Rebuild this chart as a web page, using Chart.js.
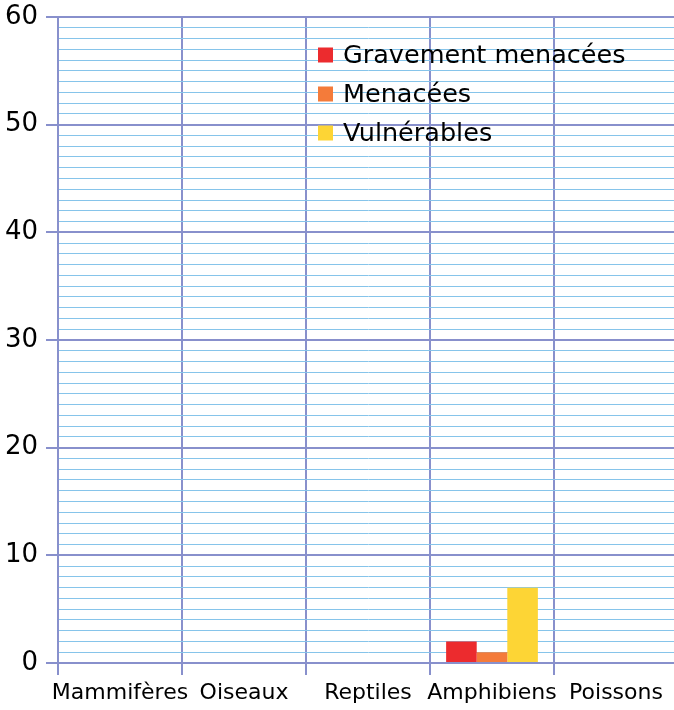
<!DOCTYPE html>
<html lang="fr">
<head>
<meta charset="utf-8">
<title>Espèces menacées</title>
<script src="https://cdn.jsdelivr.net/npm/chart.js@4/dist/chart.umd.min.js"></script>
<style>
  html, body { margin: 0; padding: 0; background: #fff; overflow: hidden; }
  #wrap { position: relative; width: 680px; height: 710px; }
</style>
</head>
<body>
<div id="wrap"><canvas id="chart"></canvas></div>
<script>
(function () {
    'use strict';

    // ---- data ----
    const categories   = ['Mammifères', 'Oiseaux', 'Reptiles', 'Amphibiens', 'Poissons'];
    const gravement    = [0, 0, 0, 2, 0];
    const menacees     = [0, 0, 0, 1, 0];
    const vulnerables  = [0, 0, 0, 7, 0];
    const seriesNames  = ['Gravement menacées', 'Menacées', 'Vulnérables'];
    const yMin = 0, yMax = 60, yMajor = 10;

    // ---- style ----
    const FONT   = "'DejaVu Sans', sans-serif";
    const MAJOR  = '#8890cc';
    const MINOR  = '#86c4ea';
    const COLORS = ['#ec2b2e', '#f47b3a', '#fdd535'];

    const isMajor = (v) => v % yMajor === 0;

    // legend drawn inside the plot area
    const innerLegend = {
        id: 'innerLegend',
        afterDatasetsDraw(chart) {
            const ctx = chart.ctx;
            const x0 = 318, y0 = 55, step = 39, box = 15;
            ctx.save();
            ctx.font = `25.5px ${FONT}`;
            ctx.textBaseline = 'middle';
            ctx.textAlign = 'left';
            chart.data.datasets.forEach((ds, i) => {
                const y = y0 + i * step;
                ctx.fillStyle = ds.backgroundColor;
                ctx.fillRect(x0, y - box / 2, box, box);
                ctx.fillStyle = '#000';
                ctx.fillText(ds.label, x0 + 25, y + 1);
            });
            ctx.restore();
        }
    };

    const datasets = [gravement, menacees, vulnerables].map((data, i) => ({
        label: seriesNames[i],
        data,
        backgroundColor: COLORS[i],
        borderWidth: 0,
        barPercentage: 1,
        categoryPercentage: 0.74
    }));

    new Chart(document.getElementById('chart'), {
        type: 'bar',
        data: { labels: categories, datasets },
        options: {
            responsive: true,
            maintainAspectRatio: false,
            animation: false,
            layout: { padding: { top: 17, right: 2, left: 0, bottom: 0 } },
            plugins: { legend: { display: false }, tooltip: { enabled: false } },
            scales: {
                x: {
                    type: 'category',
                    offset: true,
                    grid: {
                        offset: true,
                        color: MAJOR,
                        lineWidth: 2,
                        tickLength: 12,
                        tickColor: MAJOR
                    },
                    border: { color: MAJOR, width: 2 },
                    ticks: {
                        color: '#000',
                        font: { family: FONT, size: 22 },
                        padding: 5,
                        maxRotation: 0,
                        autoSkip: false
                    },
                    afterFit(scale) { scale.height = 47; }
                },
                y: {
                    min: yMin,
                    max: yMax,
                    grid: {
                        color: (c) => isMajor(c.tick.value) ? MAJOR : MINOR,
                        lineWidth: (c) => isMajor(c.tick.value) ? 2 : 1,
                        tickLength: 12,
                        tickColor: (c) => isMajor(c.tick.value) ? MAJOR : 'rgba(0,0,0,0)'
                    },
                    border: { color: MAJOR, width: 2 },
                    ticks: {
                        stepSize: 1,
                        autoSkip: false,
                        color: '#000',
                        font: { family: FONT, size: 26 },
                        padding: 8,
                        callback: (v) => isMajor(v) ? String(v) : ''
                    },
                    // let the "60" label overhang the top padding
                    afterFit(scale) {
                        scale.width = 58;
                        scale.paddingTop = 0;
                        scale.paddingBottom = 0;
                    }
                }
            }
        },
        plugins: [innerLegend]
    });
})();
</script>
</body>
</html>
